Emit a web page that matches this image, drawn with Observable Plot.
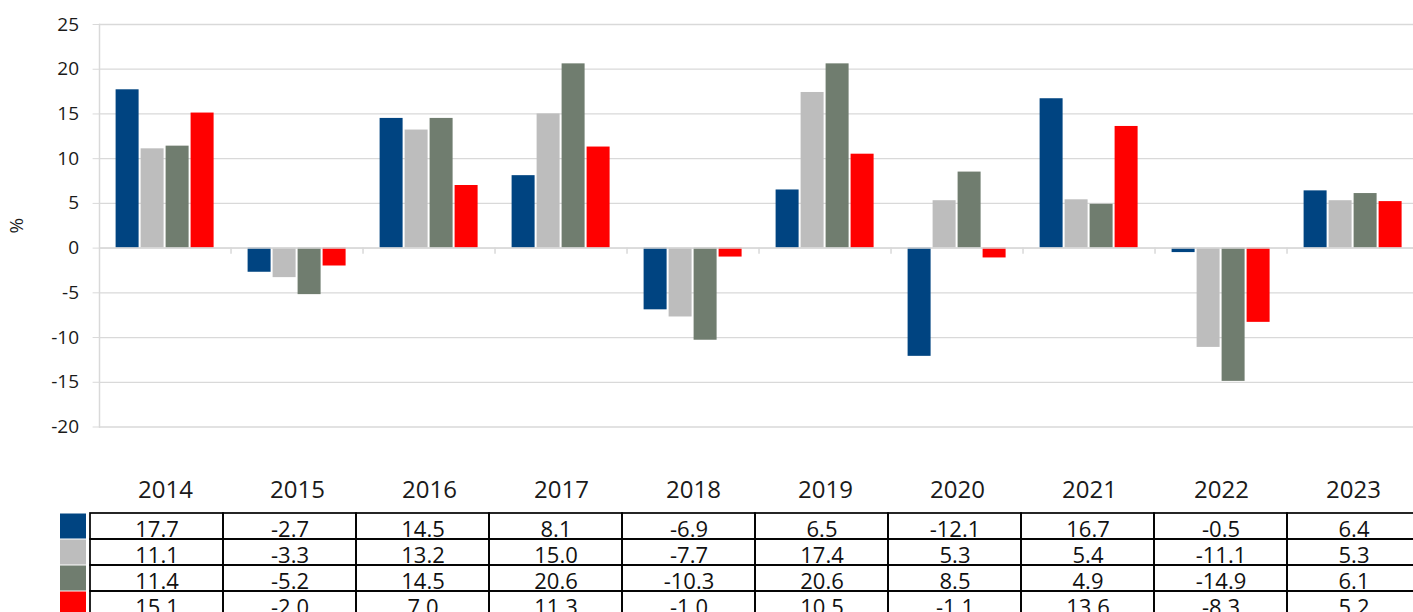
<!DOCTYPE html>
<html>
<head>
<meta charset="utf-8">
<script src="https://cdn.jsdelivr.net/npm/d3@7"></script>
<script src="https://cdn.jsdelivr.net/npm/@observablehq/plot@0.6"></script>
<style>
  html, body { margin: 0; padding: 0; background: #fff; overflow: hidden; width: 1413px; height: 612px; }
  #wrap { position: relative; width: 1413px; height: 612px; overflow: hidden; font-family: "Open Sans", sans-serif; }
  #chart { position: absolute; left: 0; top: 0; width: 1422px; }
  #table { position: absolute; left: 0; top: 505px; width: 1422px; }
  #swatch { position: absolute; left: 60px; top: 505px; width: 26px; }
  svg { max-width: none !important; }
</style>
</head>
<body>
<div id="wrap">
  <div id="chart"></div>
  <div id="table"></div>
  <div id="swatch"></div>
</div>
<script>
// ---- data ----
const years = ["2014", "2015", "2016", "2017", "2018", "2019", "2020", "2021", "2022", "2023"];
const seriesNames = ["Serie 1", "Serie 2", "Serie 3", "Serie 4"];
const seriesColors = ["#004481", "#bdbdbd", "#707d6f", "#ff0000"];
const serie1 = [17.7, -2.7, 14.5, 8.1, -6.9, 6.5, -12.1, 16.7, -0.5, 6.4];
const serie2 = [11.1, -3.3, 13.2, 15.0, -7.7, 17.4, 5.3, 5.4, -11.1, 5.3];
const serie3 = [11.4, -5.2, 14.5, 20.6, -10.3, 20.6, 8.5, 4.9, -14.9, 6.1];
const serie4 = [15.1, -2.0, 7.0, 11.3, -1.0, 10.5, -1.1, 13.6, -8.3, 5.2];
const yTicks = [-20, -15, -10, -5, 0, 5, 10, 15, 20, 25];
const yLabel = "%";

const seriesValues = [serie1, serie2, serie3, serie4];
const data = [];
seriesNames.forEach((s, si) => years.forEach((y, yi) => data.push({year: y, series: s, value: seriesValues[si][yi]})));

// ---- layout ----
const W = 1422, H = 512;
const mL = 96.4, mR = 0.6, mT = 24, mB = 85.5;
const pIn = 0.084, pOut = 0.68;
const facetW = (W - mL - mR) / years.length;
const step = facetW / (seriesNames.length - pIn + 2 * pOut);
const firstStart = (facetW - step * (seriesNames.length - pIn)) / 2;
const edgeOffset = firstStart + step * (1 - pIn) / 2;
const grid = "#d9d9d9";
const font = "Open Sans";

const chart = Plot.plot({
  width: W, height: H,
  marginTop: mT, marginBottom: mB, marginLeft: mL, marginRight: mR,
  style: {fontFamily: font, background: "transparent", color: "#1a1a1a", maxWidth: "none"},
  fx: {domain: years, padding: 0, label: null},
  x: {domain: seriesNames, paddingInner: pIn, paddingOuter: pOut, axis: null},
  y: {domain: [-20, 25], label: null},
  color: {domain: seriesNames, range: seriesColors},
  marks: [
    Plot.gridY(yTicks, {stroke: grid, strokeOpacity: 1, strokeWidth: 1.3}),
    Plot.barY(data, {fx: "year", x: "series", y: "value", fill: "series"}),
    Plot.ruleY([0], {stroke: grid, strokeWidth: 1.5}),
    Plot.frame({anchor: "left", facetAnchor: "left", stroke: grid, strokeWidth: 1.5}),
    Plot.ruleX(years.slice(1), {fx: d => d, x: () => seriesNames[0], y1: () => 0, y2: () => -0.7, dx: -edgeOffset, stroke: grid, strokeWidth: 1.5}),
    Plot.axisY(yTicks, {tickSize: 6.4, tickPadding: 14, fontSize: 19, stroke: grid, fill: "#1a1a1a",
      tickFormat: d => String(d),
      label: yLabel, labelAnchor: "center", labelOffset: 90, labelArrow: "none"}),
    Plot.axisFx({anchor: "bottom", tickSize: 0, tickPadding: 53.5, fontSize: 24, fill: "#1a1a1a", label: null})
  ]
});
document.getElementById("chart").appendChild(chart);

// ---- data table ----
const rowH = 26.3;
const tMT = 7, tMB = 0.8;
const table = Plot.plot({
  width: W, height: tMT + rowH * seriesNames.length + tMB,
  marginTop: tMT, marginBottom: tMB, marginLeft: 90, marginRight: 2,
  style: {fontFamily: font, background: "transparent", color: "#111", maxWidth: "none"},
  x: {domain: years, padding: 0, axis: null},
  y: {domain: seriesNames, padding: 0, axis: null},
  marks: [
    Plot.cell(data, {x: "year", y: "series", fill: "none", stroke: "#000", strokeWidth: 1.7}),
    Plot.text(data, {x: "year", y: "series", text: d => d.value.toFixed(1), fontSize: 22, dy: 3, fill: "#111"})
  ]
});
document.getElementById("table").appendChild(table);

const swatch = Plot.plot({
  width: 26, height: tMT + rowH * seriesNames.length + tMB,
  marginTop: tMT, marginBottom: tMB, marginLeft: 0, marginRight: 0,
  style: {background: "transparent", maxWidth: "none"},
  y: {domain: seriesNames, padding: 0, axis: null},
  color: {domain: seriesNames, range: seriesColors},
  marks: [
    Plot.cell(seriesNames, {y: d => d, fill: d => d, insetTop: 0.5, insetBottom: 0.5})
  ]
});
document.getElementById("swatch").appendChild(swatch);
</script>
</body>
</html>
